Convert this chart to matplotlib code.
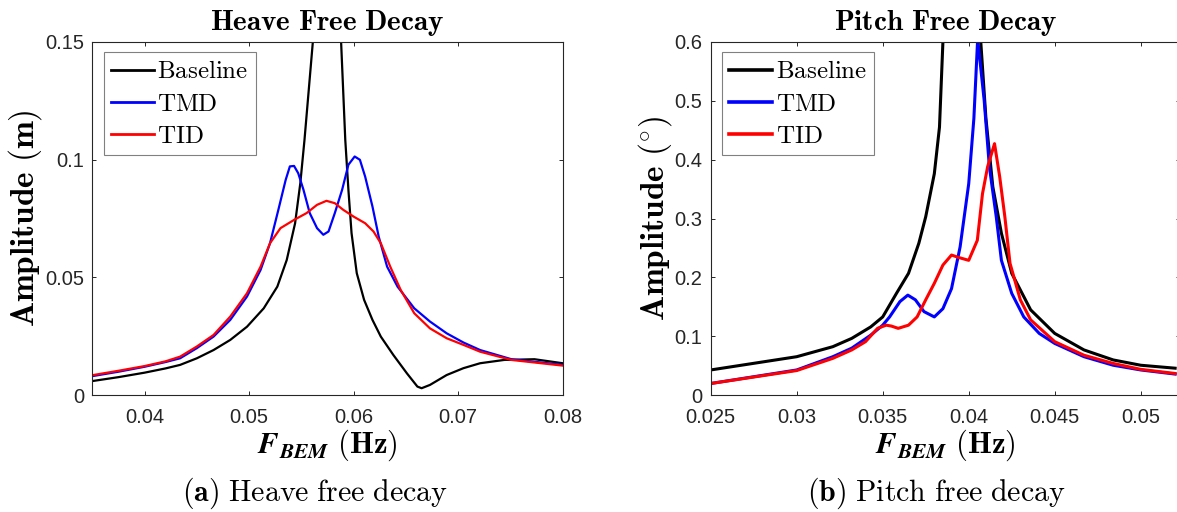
import matplotlib
matplotlib.use("Agg")
import matplotlib.pyplot as plt

### DATA ###
# heave free decay (Hz, m)
heave_f_baseline = [0.0351, 0.0375, 0.0400, 0.0420, 0.0434, 0.0450, 0.0466, 0.0482, 0.0498,
                    0.0514, 0.0527, 0.0536, 0.0544, 0.0549, 0.0553, 0.0561, 0.0566, 0.0575,
                    0.0584, 0.0588, 0.0592, 0.0595, 0.0598, 0.0603, 0.0610, 0.0618, 0.0626,
                    0.0638, 0.0651, 0.0661, 0.0665, 0.0673, 0.0689, 0.0705, 0.0721, 0.0744,
                    0.0773, 0.0800]
heave_baseline = [0.0061, 0.0077, 0.0096, 0.0114, 0.0129, 0.0157, 0.0192, 0.0235, 0.0291,
                  0.0369, 0.0461, 0.0574, 0.0730, 0.0900, 0.1084, 0.1500, 0.2000, 0.3500,
                  0.2000, 0.1500, 0.1084, 0.0872, 0.0688, 0.0518, 0.0405, 0.0320, 0.0249,
                  0.0171, 0.0093, 0.0037, 0.0030, 0.0044, 0.0086, 0.0115, 0.0136, 0.0150,
                  0.0153, 0.0136]

heave_f_tmd = [0.0351, 0.0375, 0.0400, 0.0420, 0.0434, 0.0450, 0.0466, 0.0482, 0.0498, 0.0511,
               0.0520, 0.0528, 0.0535, 0.0539, 0.0543, 0.0547, 0.0552, 0.0558, 0.0565, 0.0571,
               0.0576, 0.0582, 0.0589, 0.0595, 0.0601, 0.0606, 0.0611, 0.0618, 0.0624, 0.0632,
               0.0642, 0.0658, 0.0673, 0.0689, 0.0705, 0.0721, 0.0751, 0.0800]
heave_tmd = [0.0082, 0.0100, 0.0121, 0.0141, 0.0157, 0.0200, 0.0249, 0.0320, 0.0419, 0.0532,
             0.0645, 0.0787, 0.0914, 0.0971, 0.0973, 0.0942, 0.0872, 0.0773, 0.0709, 0.0681,
             0.0695, 0.0773, 0.0872, 0.0978, 0.1013, 0.0999, 0.0928, 0.0801, 0.0673, 0.0546,
             0.0461, 0.0369, 0.0313, 0.0263, 0.0224, 0.0192, 0.0153, 0.0129]

heave_f_tid = [0.0351, 0.0375, 0.0400, 0.0420, 0.0434, 0.0450, 0.0466, 0.0482, 0.0498, 0.0511,
               0.0520, 0.0530, 0.0543, 0.0555, 0.0565, 0.0574, 0.0582, 0.0590, 0.0600, 0.0611,
               0.0619, 0.0626, 0.0635, 0.0645, 0.0658, 0.0673, 0.0689, 0.0705, 0.0721, 0.0751,
               0.0800]
heave_tid = [0.0086, 0.0104, 0.0124, 0.0144, 0.0164, 0.0207, 0.0256, 0.0334, 0.0433, 0.0546,
             0.0645, 0.0709, 0.0744, 0.0773, 0.0808, 0.0825, 0.0815, 0.0787, 0.0758, 0.0730,
             0.0695, 0.0645, 0.0546, 0.0447, 0.0348, 0.0284, 0.0242, 0.0214, 0.0185, 0.0150,
             0.0126]

# pitch free decay (Hz, deg)
pitch_f_baseline = [0.0250, 0.0300, 0.0321, 0.0332, 0.0343, 0.0350, 0.0358, 0.0365, 0.0371,
                    0.0375, 0.0380, 0.0383, 0.0385, 0.0390, 0.0396, 0.0402, 0.0407, 0.0410,
                    0.0414, 0.0419, 0.0425, 0.0436, 0.0450, 0.0467, 0.0484, 0.0500, 0.0520]
pitch_baseline = [0.043, 0.0655, 0.0825, 0.0966, 0.116, 0.133, 0.173, 0.207, 0.258,
                  0.303, 0.376, 0.455, 0.600, 1.000, 1.500, 1.000, 0.600, 0.470,
                  0.354, 0.275, 0.207, 0.145, 0.105, 0.077, 0.060, 0.051, 0.046]

pitch_f_tmd = [0.0250, 0.0300, 0.0321, 0.0332, 0.0343, 0.0350, 0.0354, 0.0360, 0.03646, 0.0369,
               0.0374, 0.0380, 0.0385, 0.0390, 0.0395, 0.0400, 0.0403, 0.04052, 0.0409, 0.0412,
               0.0416, 0.0419, 0.0425, 0.0432, 0.0441, 0.0450, 0.0467, 0.0484, 0.0500, 0.0520]
pitch_tmd = [0.020, 0.043, 0.0655, 0.080, 0.102, 0.119, 0.133, 0.159, 0.170, 0.162,
             0.142, 0.133, 0.147, 0.181, 0.252, 0.359, 0.470, 0.605, 0.500, 0.388,
             0.303, 0.229, 0.173, 0.133, 0.105, 0.088, 0.0655, 0.051, 0.043, 0.036]

pitch_f_tid = [0.0250, 0.0300, 0.0321, 0.0332, 0.0340, 0.0347, 0.0352, 0.0355, 0.0359, 0.0365,
               0.0370, 0.0375, 0.0380, 0.0385, 0.0390, 0.0394, 0.0400, 0.0405, 0.0408, 0.0411,
               0.0415, 0.0418, 0.0421, 0.0424, 0.0430, 0.0436, 0.0450, 0.0467, 0.0484, 0.0500,
               0.0520]
pitch_tid = [0.020, 0.042, 0.0627, 0.077, 0.091, 0.1136, 0.119, 0.1175, 0.1136, 0.119,
             0.133, 0.162, 0.190, 0.221, 0.238, 0.234, 0.229, 0.263, 0.342, 0.388,
             0.427, 0.371, 0.303, 0.224, 0.162, 0.128, 0.091, 0.068, 0.054, 0.044,
             0.037]

heave_xticks = [0.04, 0.05, 0.06, 0.07, 0.08]
heave_xticklabels = ["0.04", "0.05", "0.06", "0.07", "0.08"]
heave_yticks = [0, 0.05, 0.1, 0.15]
heave_yticklabels = ["0", "0.05", "0.1", "0.15"]
pitch_xticks = [0.025, 0.03, 0.035, 0.04, 0.045, 0.05]
pitch_xticklabels = ["0.025", "0.03", "0.035", "0.04", "0.045", "0.05"]
pitch_yticks = [0, 0.1, 0.2, 0.3, 0.4, 0.5, 0.6]
pitch_yticklabels = ["0", "0.1", "0.2", "0.3", "0.4", "0.5", "0.6"]
series_names = ["Baseline", "TMD", "TID"]
#############

plt.rcParams["mathtext.fontset"] = "cm"
plt.rcParams["font.family"] = ["Liberation Sans", "DejaVu Sans"]

W, H = 1177, 512
AX_GRAY = "#262626"
COLORS = ["black", "#0000ff", "#ff0000"]


def px_box(left, top, right, bottom):
    return [left / W, 1 - bottom / H, (right - left) / W, (bottom - top) / H]


def style_axes(ax, xticks, xlabels, yticks, ylabels):
    ax.set_xticks(xticks)
    ax.set_xticklabels(xlabels)
    ax.set_yticks(yticks)
    ax.set_yticklabels(ylabels)
    ax.tick_params(direction="in", length=3, width=0.7, color=AX_GRAY,
                   labelcolor=AX_GRAY, labelsize=14.5, top=True, right=True, pad=6)
    ax.tick_params(axis="x", pad=9)
    for s in ax.spines.values():
        s.set_color(AX_GRAY)
        s.set_linewidth(0.8)


def add_legend(ax, lw):
    leg = ax.legend([rf"$\mathrm{{{n}}}$" for n in series_names], loc="upper left",
                    bbox_to_anchor=(0.025, 0.97), borderaxespad=0, fontsize=18,
                    fancybox=False, framealpha=1, edgecolor="#808080",
                    handlelength=1.72, handletextpad=0.13, borderpad=0.28,
                    labelspacing=0.33)
    leg.get_frame().set_linewidth(0.8)
    for line in leg.get_lines():
        line.set_linewidth(lw)
    return leg


def label_axes(ax, title, ylabel, ylabel_x):
    ax.text(0.5, 1.054, title, transform=ax.transAxes,
            ha="center", va="center", fontsize=21)
    ax.set_ylabel(ylabel, fontsize=24)
    ax.yaxis.set_label_coords(ylabel_x, 0.5)
    ax.yaxis.label.set_va("center")
    ax.set_xlabel(r"$\mathbfit{F}_{\mathbfit{BEM}}\ \mathbf{(Hz)}$", fontsize=22)
    ax.xaxis.set_label_coords(0.5, -0.142)
    ax.xaxis.label.set_va("center")


def main():
    fig = plt.figure(figsize=(W / 100, H / 100), dpi=100)

    # heave
    ax1 = fig.add_axes(px_box(92.3, 41.7, 562.7, 395.3))
    ax1.plot(heave_f_baseline, heave_baseline, color=COLORS[0], lw=1.6)
    ax1.plot(heave_f_tmd, heave_tmd, color=COLORS[1], lw=1.6)
    ax1.plot(heave_f_tid, heave_tid, color=COLORS[2], lw=1.6)
    ax1.set_xlim(0.035, 0.08)
    ax1.set_ylim(0, 0.15)
    style_axes(ax1, heave_xticks, heave_xticklabels, heave_yticks, heave_yticklabels)
    add_legend(ax1, 2.0)
    label_axes(ax1, r"$\mathbf{Heave\ Free\ Decay}$", r"$\mathbf{Amplitude\ (m)}$", -0.143)

    # pitch
    ax2 = fig.add_axes(px_box(710.7, 41.7, 1180.3, 395.3))
    ax2.plot(pitch_f_baseline, pitch_baseline, color=COLORS[0], lw=2.2)
    ax2.plot(pitch_f_tmd, pitch_tmd, color=COLORS[1], lw=2.2)
    ax2.plot(pitch_f_tid, pitch_tid, color=COLORS[2], lw=2.2)
    ax2.set_xlim(0.025, 0.0523)
    ax2.set_ylim(0, 0.6)
    style_axes(ax2, pitch_xticks, pitch_xticklabels, pitch_yticks, pitch_yticklabels)
    add_legend(ax2, 2.6)
    label_axes(ax2, r"$\mathbf{Pitch\ Free\ Decay}$", r"$\mathbf{Amplitude}\ (^{\circ})$", -0.1186)

    # captions
    fig.text(315 / W, 1 - 493 / H, r"$\mathbf{(a)}\ \mathrm{Heave\ free\ decay}$",
             ha="center", va="center", fontsize=21.5)
    fig.text(936.5 / W, 1 - 493 / H, r"$\mathbf{(b)}\ \mathrm{Pitch\ free\ decay}$",
             ha="center", va="center", fontsize=21.5)

    fig.savefig("out.png", dpi=100)


main()
